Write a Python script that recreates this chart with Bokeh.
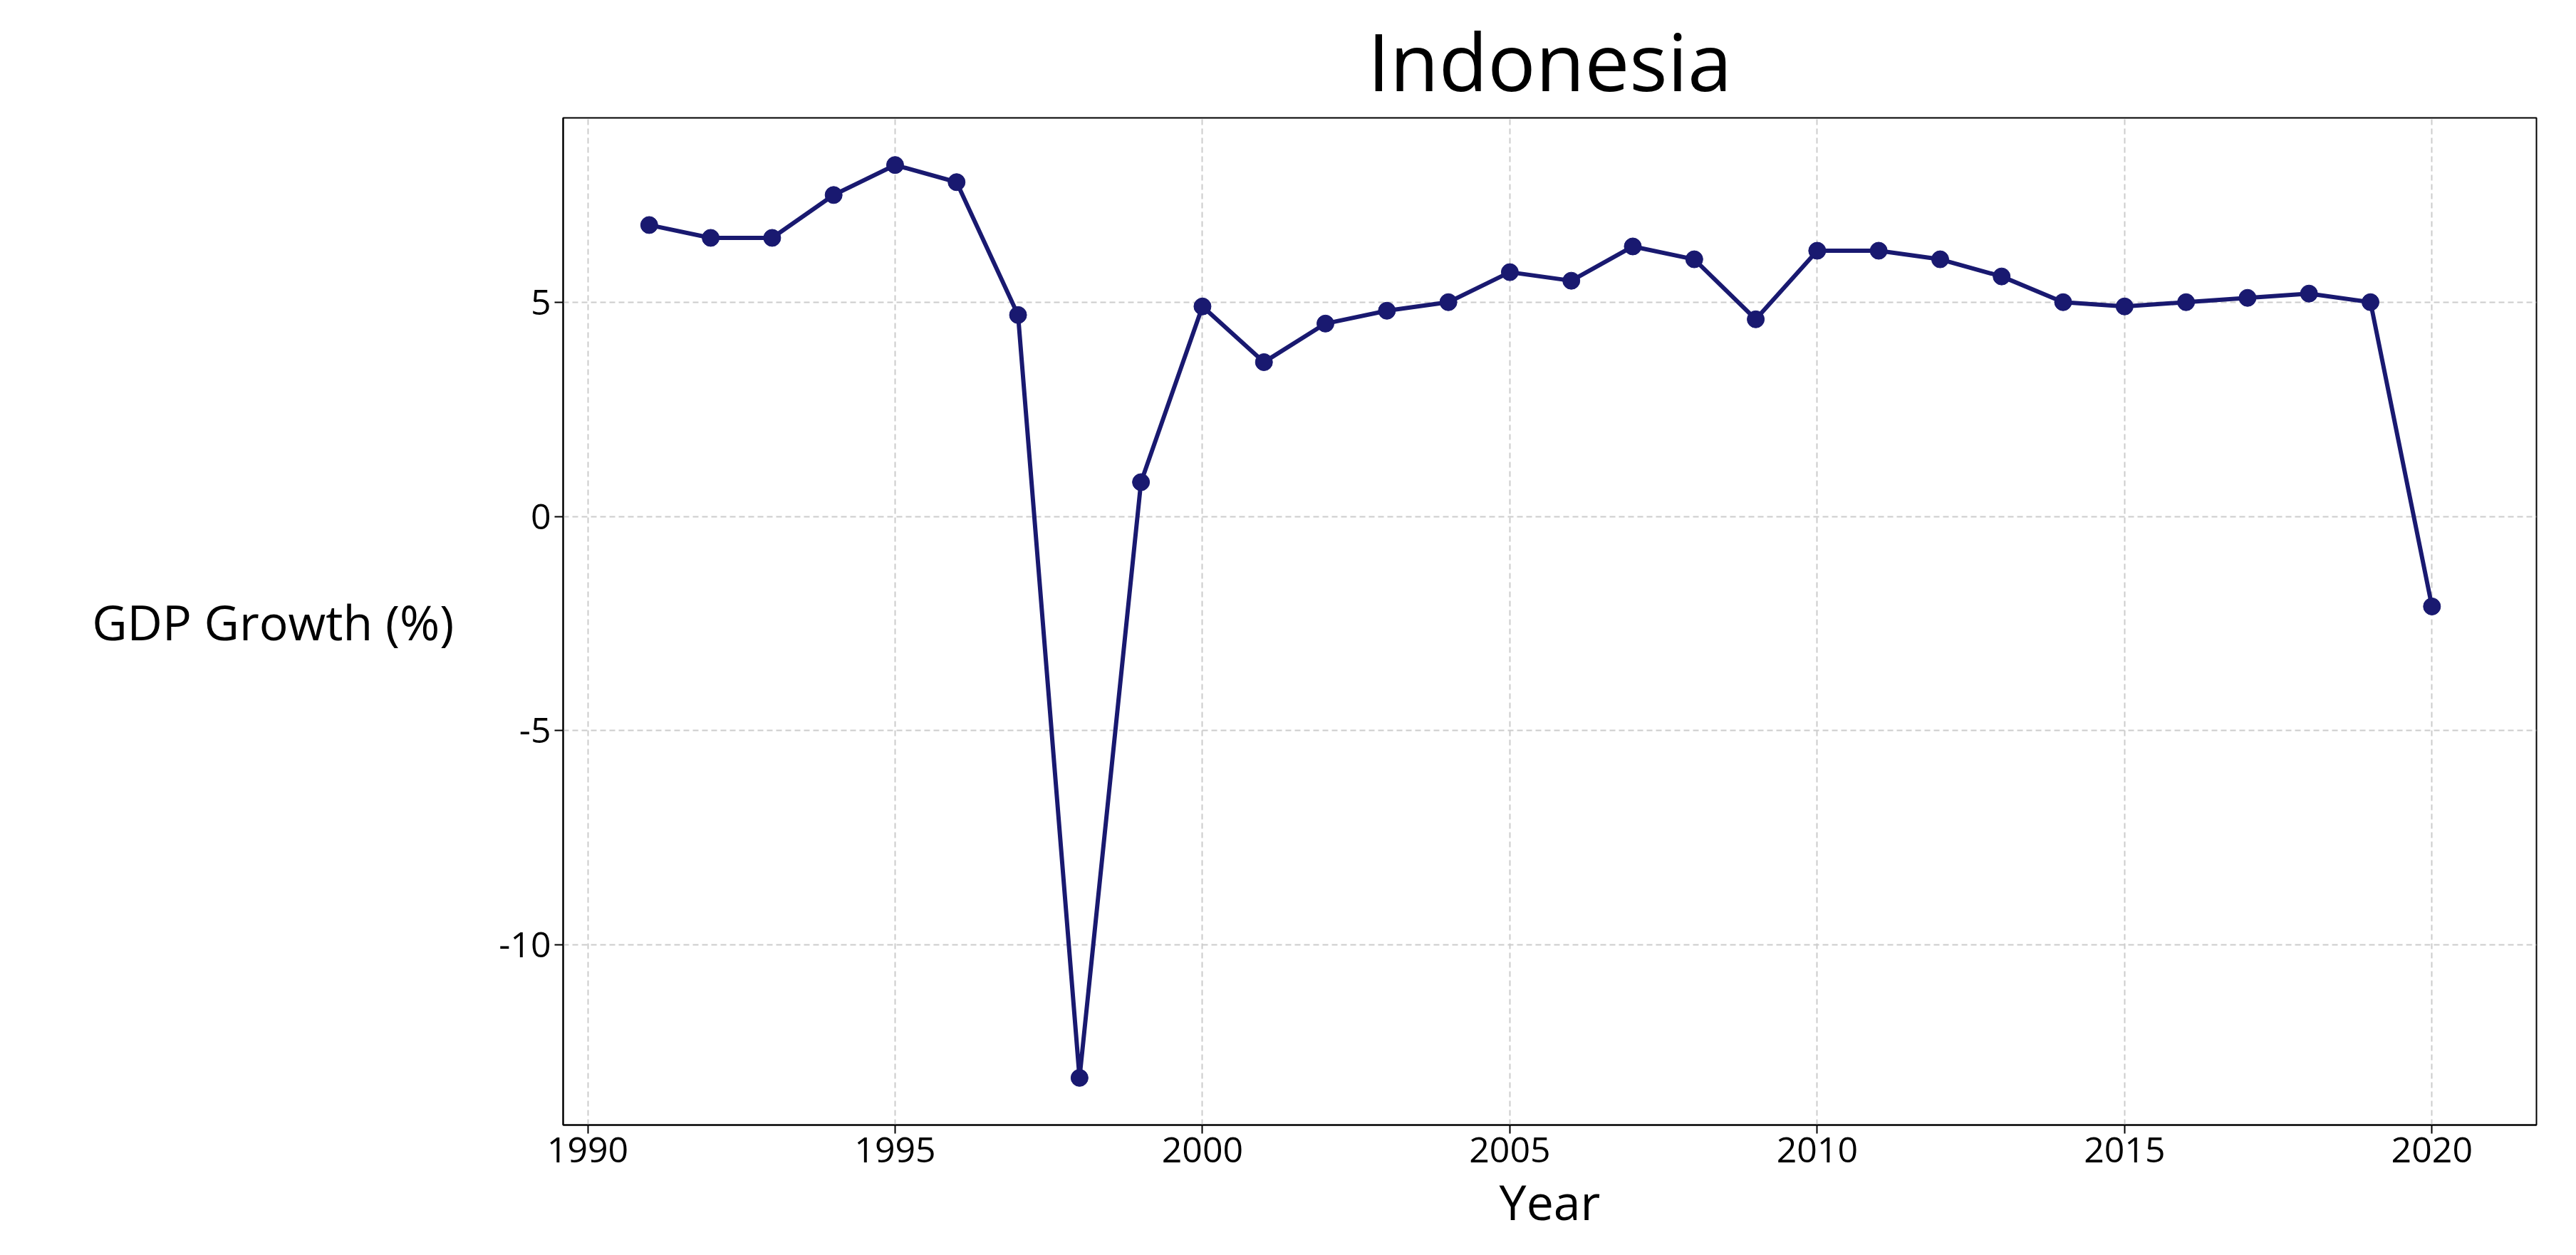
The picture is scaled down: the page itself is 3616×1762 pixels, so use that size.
from bokeh.plotting import figure
from bokeh.models import ColumnDataSource, Range1d, FixedTicker
from bokeh.embed import file_html
from bokeh.resources import INLINE

years = list(range(1991, 2021))
growth = [6.8, 6.5, 6.5, 7.5, 8.2, 7.8, 4.7, -13.1, 0.8, 4.9,
          3.6, 4.5, 4.8, 5.0, 5.7, 5.5, 6.3, 6.0, 4.6, 6.2,
          6.2, 6.0, 5.6, 5.0, 4.9, 5.0, 5.1, 5.2, 5.0, -2.1]
x_ticks = [1990, 1995, 2000, 2005, 2010, 2015, 2020]
y_ticks = [-10, -5, 0, 5]

src = ColumnDataSource(data={"year": years, "growth": growth})

FONT = "Open Sans"
p = figure(width=3590, height=1735, output_backend="svg", toolbar_location=None,
           x_range=Range1d(1989.6, 2021.7), y_range=Range1d(-14.2, 9.3),
           min_border_left=790, min_border_right=30, min_border_top=20)
p.title.text = "Indonesia"
p.title.align = "center"
p.title.text_font = FONT
p.title.text_font_size = "112px"
p.title.text_font_style = "normal"
p.title.text_color = "black"

p.line("year", "growth", source=src, line_color="#191970", line_width=6)
p.scatter("year", "growth", source=src, size=24, fill_color="#191970", line_color="#191970")

p.xaxis.ticker = FixedTicker(ticks=x_ticks)
p.yaxis.ticker = FixedTicker(ticks=y_ticks)
p.yaxis.major_label_overrides = {t: str(t) for t in y_ticks}
p.xaxis.axis_label = "Year"
p.yaxis.axis_label = "GDP Growth (%)"
p.yaxis.axis_label_orientation = "horizontal"
p.yaxis.axis_label_standoff = 60
for ax in (p.xaxis, p.yaxis):
    ax.axis_label_text_font = FONT
    ax.axis_label_text_font_size = "68px"
    ax.axis_label_text_font_style = "normal"
    ax.axis_label_text_color = "black"
    ax.major_label_text_font = FONT
    ax.major_label_text_font_size = "50px"
    ax.major_label_text_color = "black"
    ax.minor_tick_line_color = None
    ax.major_tick_line_width = 2
    ax.major_tick_out = 12
    ax.major_tick_in = 0
    ax.axis_line_width = 2
p.outline_line_color = "black"
p.outline_line_width = 2
p.grid.grid_line_color = "#cccccc"
p.grid.grid_line_dash = "8 5"
p.grid.grid_line_width = 2

open("out.html", "w").write(file_html(p, INLINE))
